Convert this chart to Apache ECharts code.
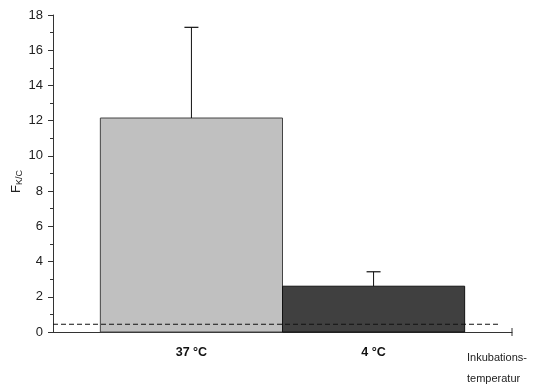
<!DOCTYPE html>
<html>
<head>
<meta charset="utf-8">
<script src="https://cdn.jsdelivr.net/npm/echarts@6/dist/echarts.min.js"></script>
<style>
  html, body { margin: 0; padding: 0; background: #fff; }
  #chart { width: 538px; height: 384px; }
</style>
</head>
<body>
<div id="chart"></div>
<script>
// Incubation temperatures and the measured F(K/C) ratio
const categories = ['37 °C', '4 °C'];
const positions = [1, 2];
const means = [12.15, 2.6];
const upperErrors = [17.3, 3.42];
const threshold = [0.44];
const yTicks = [0, 2, 4, 6, 8, 10, 12, 14, 16, 18];

const X_MIN = 0.24, X_MAX = 2.76, DASH_END = 2.685;
const barColors = ['#c0c0c0', '#404040'];
const barStrokes = ['#444444', '#111111'];

const font = 'Liberation Sans, Arial, sans-serif';

function renderItem(params, api) {
  const i = params.dataIndex;
  const x = api.value(0), y = api.value(1), err = api.value(2);
  const p0 = api.coord([x - 0.5, 0]);
  const p1 = api.coord([x + 0.5, y]);
  const top = api.coord([x, y]);
  const errTop = api.coord([x, err]);
  const children = [
    {
      type: 'rect',
      shape: { x: p0[0], y: p1[1], width: p1[0] - p0[0], height: p0[1] - p1[1] },
      style: { fill: barColors[i], stroke: barStrokes[i], lineWidth: 1 }
    },
    {
      type: 'line',
      shape: { x1: top[0], y1: top[1], x2: errTop[0], y2: errTop[1] },
      style: { stroke: '#111', lineWidth: 1 }
    },
    {
      type: 'line',
      shape: { x1: errTop[0] - 7, y1: errTop[1], x2: errTop[0] + 7, y2: errTop[1] },
      style: { stroke: '#111', lineWidth: 1.2 }
    },
    {
      type: 'text',
      x: top[0], y: p0[1] + 21,
      style: {
        text: categories[i], align: 'center', verticalAlign: 'middle',
        font: 'bold 12.5px ' + font, fill: '#111'
      }
    }
  ];
  if (i === 0) {
    // dashed reference level
    const d0 = api.coord([X_MIN, threshold[0]]);
    const d1 = api.coord([DASH_END, threshold[0]]);
    children.push({
      type: 'line',
      z2: 10,
      shape: { x1: d0[0], y1: d0[1], x2: d1[0], y2: d1[1] },
      style: { stroke: '#111', lineWidth: 1, lineDash: [5, 3] }
    });
    // end tick of the x axis
    const e = api.coord([X_MAX, 0]);
    children.push({
      type: 'line',
      shape: { x1: e[0], y1: e[1] - 4, x2: e[0], y2: e[1] + 4 },
      style: { stroke: '#333', lineWidth: 1 }
    });
  }
  return { type: 'group', children: children };
}

const chart = echarts.init(document.getElementById('chart'), null, { renderer: 'canvas' });
chart.setOption({
  animation: false,
  backgroundColor: '#fff',
  grid: { left: 53, right: 26, top: 15, bottom: 52, containLabel: false, outerBoundsMode: 'none' },
  xAxis: {
    type: 'value', min: X_MIN, max: X_MAX,
    axisLine: { show: true, onZero: false, lineStyle: { color: '#333', width: 1 } },
    axisTick: { show: false },
    axisLabel: { show: false },
    splitLine: { show: false }
  },
  yAxis: {
    type: 'value', min: yTicks[0], max: yTicks[yTicks.length - 1], interval: 2,
    name: '{f|F}{s|K/C}',
    nameLocation: 'middle', nameGap: 29, nameRotate: 90, nameMoveOverlap: false,
    nameTextStyle: {
      padding: [0, 16, 0, 0],
      rich: {
        f: { fontFamily: font, fontSize: 13, color: '#222' },
        s: { fontFamily: font, fontSize: 9, color: '#222', verticalAlign: 'bottom', padding: [7, 0, 0, 0] }
      }
    },
    axisLine: { show: true, lineStyle: { color: '#333', width: 1 } },
    axisTick: { show: true, length: 5, lineStyle: { color: '#333' } },
    minorTick: { show: true, splitNumber: 2, length: 3, lineStyle: { color: '#333' } },
    axisLabel: { fontFamily: font, fontSize: 13, color: '#222', margin: 10 },
    splitLine: { show: false }
  },
  graphic: [{
    type: 'text', left: 467, top: 347,
    style: { text: 'Inkubations-\ntemperatur', font: '11px ' + font, fill: '#222', lineHeight: 21 }
  }],
  series: [{
    type: 'custom',
    renderItem: renderItem,
    clip: false,
    data: positions.map((p, i) => [p, means[i], upperErrors[i]])
  }]
});
</script>
</body>
</html>
